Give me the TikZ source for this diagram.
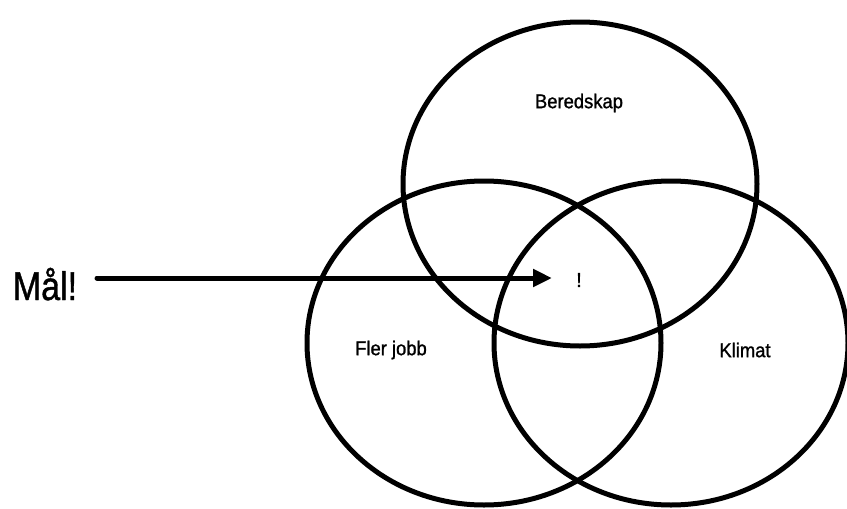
\documentclass[tikz,border=0pt]{standalone}
\usepackage{fontspec}
\setmainfont{Liberation Sans}
\newfontfamily\lblfont{Liberation Sans}[FakeBold=1.2]
\usetikzlibrary{arrows.meta,shapes.geometric}
\begin{document}
\begin{tikzpicture}[x=1pt,y=-1pt,
  ring/.style={ellipse, draw=black, line width=5pt, minimum width=354pt, minimum height=324pt, inner sep=0pt},
  lbl/.style={font=\lblfont\fontsize{20}{24}\selectfont, inner sep=0pt},
  bigl/.style={font=\lblfont\fontsize{40}{48}\selectfont, inner sep=0pt},
  pointer/.style={line width=5pt, line cap=round, -{Triangle[length=19pt,width=17pt]}}]
\useasboundingbox (0,0) rectangle (847,509);
\node[ring] (top) at (580,184) {};
\node[ring] (left) at (484,343) {};
\node[ring] (right) at (671,343) {};
\node[lbl] (bered) at (579,103) {\scalebox{0.92}[1]{Beredskap}};
\node[lbl] (fler) at (391,350) {\scalebox{0.92}[1]{Fler jobb}};
\node[lbl] (klimat) at (745,350) {\scalebox{0.92}[1]{Klimat}};
\node[lbl] (excl) at (579,280) {!};
\node[bigl, anchor=base] (mal) at (45,300) {\scalebox{0.85}[1]{Mål!}};
\coordinate (a0) at (97,278);
\coordinate (a1) at (552,278);
\draw[pointer] (a0) -- (a1);
\end{tikzpicture}
\end{document}
